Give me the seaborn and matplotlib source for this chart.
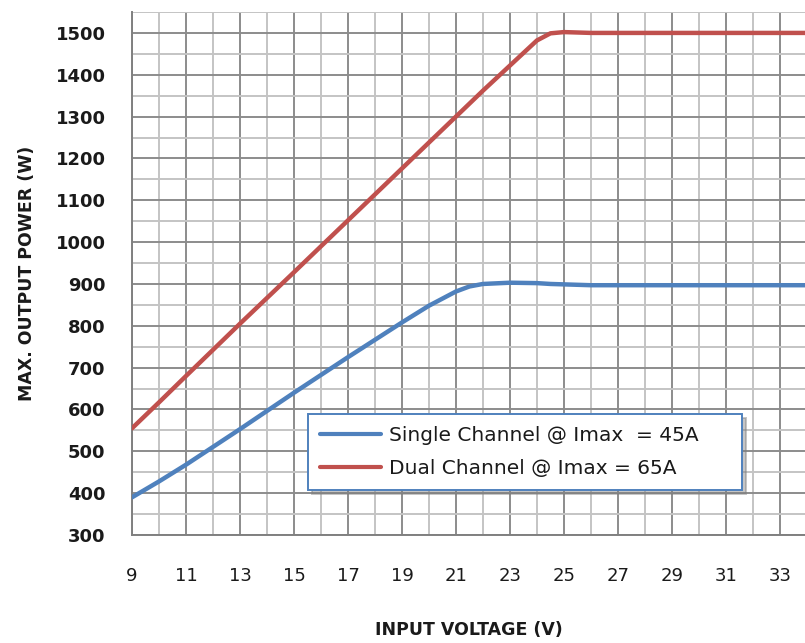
import numpy as np
import pandas as pd
import matplotlib
matplotlib.use("Agg")
import matplotlib.pyplot as plt
from matplotlib.ticker import MultipleLocator
import seaborn as sns

# Input voltage points (V)
voltage = [9, 10, 11, 13, 15, 17, 19, 20, 21, 21.5, 22, 23, 24, 24.5, 25, 26, 28, 30, 32, 34]
# Single channel, Imax = 45A
single_w = [390, 428, 468, 553, 640, 725, 808, 848, 882, 894, 900, 903, 902, 900, 899, 897, 897, 897, 897, 897]
# Dual channel, Imax = 65A
dual_w = [555, 617, 680, 805, 928, 1052, 1176, 1238, 1300, 1331, 1362, 1422, 1482, 1499, 1502, 1500, 1500, 1500, 1500, 1500]

x_ticks = [9, 11, 13, 15, 17, 19, 21, 23, 25, 27, 29, 31, 33]
y_ticks = [300, 400, 500, 600, 700, 800, 900, 1000, 1100, 1200, 1300, 1400, 1500]

labels = ["Single Channel @ Imax  = 45A", "Dual Channel @ Imax = 65A"]
colors = ["#4F81BD", "#C0504D"]

df = pd.concat([
    pd.DataFrame({"V": voltage, "W": single_w, "series": labels[0]}),
    pd.DataFrame({"V": voltage, "W": dual_w, "series": labels[1]}),
])

sns.set_theme(style="white")
plt.rcParams["font.family"] = ["DejaVu Sans"]

fig = plt.figure(figsize=(8.05, 6.43), dpi=100)
ax = fig.add_axes([132 / 805, 108 / 643, 1 - 132 / 805, (535 - 12) / 643])

sns.lineplot(data=df, x="V", y="W", hue="series", palette=colors,
             linewidth=3.2, ax=ax, legend=True, zorder=5)

ax.set_xlim(9, 33.93)
ax.set_ylim(300, 1550)
ax.set_xticks(x_ticks)
ax.xaxis.set_minor_locator(MultipleLocator(1))
ax.set_yticks(y_ticks)
ax.yaxis.set_minor_locator(MultipleLocator(50))

ax.grid(which="major", color="#8c8c8c", linewidth=1.4)
ax.grid(which="minor", color="#c4c4c4", linewidth=1.4)
ax.set_axisbelow(True)

for s in ["top", "right"]:
    ax.spines[s].set_visible(False)
for s in ["left", "bottom"]:
    ax.spines[s].set_color("#808080")
    ax.spines[s].set_linewidth(1.4)

ax.tick_params(axis="both", which="major", direction="out", length=7,
               width=1.4, color="#808080", labelsize=13, labelcolor="#1a1a1a")
ax.tick_params(axis="x", which="major", pad=16)
ax.tick_params(axis="y", which="major", pad=12)
ax.tick_params(which="minor", length=0)
for t in ax.get_yticklabels():
    t.set_fontweight("bold")

ax.set_xlabel("")
fig.text((132 + 805) / 2 / 805, 1 - 630 / 643, "INPUT VOLTAGE (V)",
         fontsize=12.5, fontweight="bold", ha="center", va="center", color="#1a1a1a")
ax.set_ylabel("MAX. OUTPUT POWER (W)", fontsize=12.5, fontweight="bold",
              labelpad=14, color="#1a1a1a")

leg = ax.legend(loc="lower left", bbox_to_anchor=(0.262, 0.086, 0.644, 0.14),
                mode="expand", borderaxespad=0, frameon=True, fancybox=False,
                shadow={"color": "#7f7f7f", "alpha": 0.45, "ox": 3, "oy": -3},
                fontsize=14.5, handlelength=3.0, handletextpad=0.4,
                borderpad=0.6, labelspacing=0.7, title=None)
leg.get_frame().set_edgecolor("#4F81BD")
leg.get_frame().set_linewidth(1.4)
for line in leg.get_lines():
    line.set_linewidth(3)
for txt in leg.get_texts():
    txt.set_color("#1a1a1a")

fig.savefig("out.png", dpi=100)
